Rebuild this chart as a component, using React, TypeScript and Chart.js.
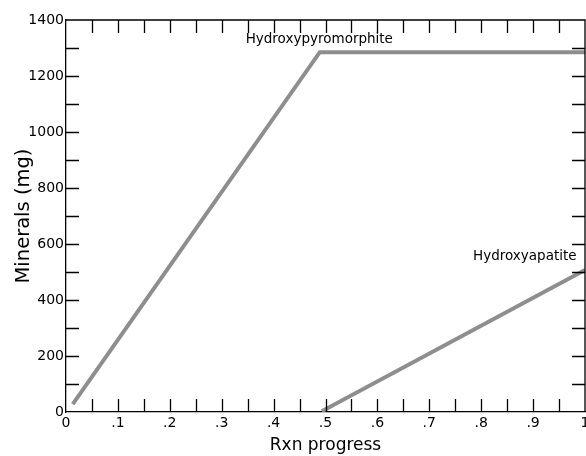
import React, { useEffect, useRef } from "react";
import { Chart, registerables } from "chart.js";

Chart.register(...registerables);

// Data
const pyroX = [0.013, 0.489, 1.0];
const pyroY = [28, 1285, 1285];
const apatiteX = [0.493, 1.0];
const apatiteY = [3, 507];

const annotationTexts = ["Hydroxypyromorphite", "Hydroxyapatite"];
const annotationX = [0.488, 0.884];
const annotationY = [1329, 554];

const xTickStep = 0.05;
const yTickStep = 100;
const xLabelEvery = 0.1;
const yLabelEvery = 200;

const FONT = "'DejaVu Sans', Verdana, sans-serif";

function fmtX(v: number): string {
  const n = Math.round(v * 10);
  if (n === 0) return "0";
  if (n === 10) return "1";
  return "." + n;
}

const framePlugin = {
  id: "frame",
  afterDraw(chart: any) {
    const { ctx, chartArea } = chart;
    const { left, right, top, bottom } = chartArea;
    const xs = chart.scales.x;
    const ys = chart.scales.y;
    const len = 13;
    ctx.save();
    ctx.strokeStyle = "#000";
    ctx.lineWidth = 1.3;
    ctx.beginPath();
    ctx.moveTo(left, top);
    ctx.lineTo(right, top);
    ctx.lineTo(right, bottom);
    for (let i = 1; i < Math.round(1 / xTickStep); i++) {
      const px = Math.round(xs.getPixelForValue(i * xTickStep)) + 0.5;
      ctx.moveTo(px, bottom);
      ctx.lineTo(px, bottom - len);
      ctx.moveTo(px, top);
      ctx.lineTo(px, top + len);
    }
    for (let i = 1; i < Math.round(1400 / yTickStep); i++) {
      const py = Math.round(ys.getPixelForValue(i * yTickStep)) + 0.5;
      ctx.moveTo(left, py);
      ctx.lineTo(left + len, py);
      ctx.moveTo(right, py);
      ctx.lineTo(right - len, py);
    }
    ctx.stroke();
    ctx.fillStyle = "#000";
    ctx.font = `13.5px ${FONT}`;
    ctx.textAlign = "center";
    ctx.textBaseline = "middle";
    annotationTexts.forEach((t, i) => {
      ctx.fillText(t, xs.getPixelForValue(annotationX[i]), ys.getPixelForValue(annotationY[i]));
    });
    ctx.restore();
  },
};

export default function App() {
  const ref = useRef<HTMLCanvasElement | null>(null);
  useEffect(() => {
    if (!ref.current) return;
    const chart = new Chart(ref.current, {
      type: "line",
      data: {
        datasets: [
          {
            label: annotationTexts[0],
            data: pyroX.map((x, i) => ({ x, y: pyroY[i] })),
            borderColor: "#8e8e8e",
            borderWidth: 4,
            pointRadius: 0,
            tension: 0,
          },
          {
            label: annotationTexts[1],
            data: apatiteX.map((x, i) => ({ x, y: apatiteY[i] })),
            borderColor: "#8e8e8e",
            borderWidth: 4,
            pointRadius: 0,
            tension: 0,
          },
        ],
      },
      options: {
        responsive: false,
        animation: false,
        devicePixelRatio: 1,
        layout: { padding: { top: 20, right: 1, left: 0, bottom: 0 } },
        plugins: { legend: { display: false }, tooltip: { enabled: false } },
        scales: {
          x: {
            type: "linear",
            min: 0,
            max: 1,
            grid: { display: true, drawOnChartArea: false, drawTicks: false },
            border: { display: true, color: "#000", width: 1.3 },
            ticks: {
              stepSize: xTickStep,
              autoSkip: false,
              maxRotation: 0,
              padding: 3,
              color: "#000",
              font: { size: 14, family: FONT },
              callback: (v: any) => {
                const n = Number(v);
                const k = n / xLabelEvery;
                return Math.abs(k - Math.round(k)) < 1e-6 ? fmtX(n) : "";
              },
            },
            title: {
              display: true,
              text: "Rxn progress",
              color: "#000",
              font: { size: 17, family: FONT },
              padding: { top: 0, bottom: 0 },
            },
            afterFit: (s: any) => {
              s.height = 44;
              s.paddingLeft = 0;
              s.paddingRight = 0;
            },
          },
          y: {
            type: "linear",
            min: 0,
            max: 1400,
            grid: { display: true, drawOnChartArea: false, drawTicks: false },
            border: { display: true, color: "#000", width: 1.3 },
            ticks: {
              stepSize: yTickStep,
              autoSkip: false,
              padding: 2,
              color: "#000",
              font: { size: 14, family: FONT },
              callback: (v: any) => {
                const n = Number(v);
                return Math.round(n) % yLabelEvery === 0 ? String(Math.round(n)) : "";
              },
            },
            title: {
              display: true,
              text: "Minerals (mg)",
              color: "#000",
              font: { size: 19.5, family: FONT },
              padding: { top: 12, bottom: 0 },
            },
            afterFit: (s: any) => {
              s.width = 66;
              s.paddingTop = 0;
              s.paddingBottom = 0;
            },
          },
        },
      },
      plugins: [framePlugin],
    } as any);
    return () => chart.destroy();
  }, []);
  return (
    <div style={{ position: "fixed", left: 0, top: 0, width: 586, height: 456, background: "#fff" }}>
      <canvas ref={ref} width={586} height={456} style={{ display: "block" }} />
    </div>
  );
}
